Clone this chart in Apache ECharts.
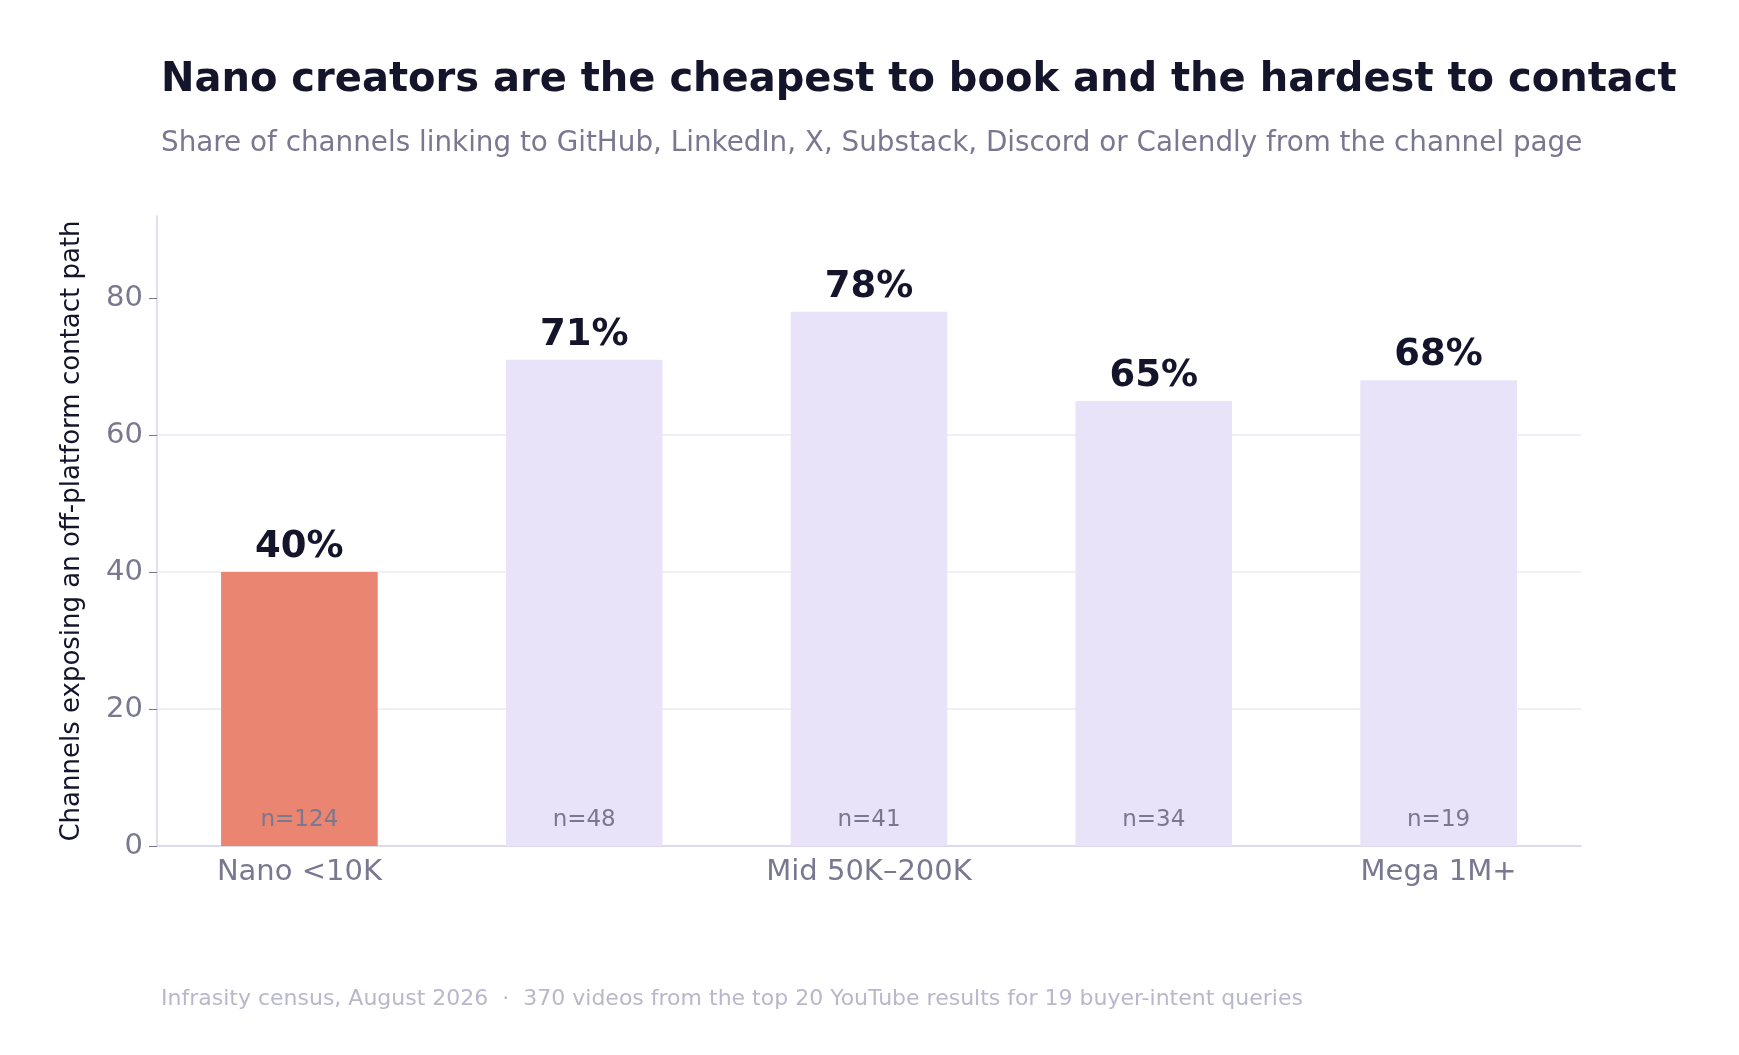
<!DOCTYPE html>
<html><head><meta charset="utf-8">
<script src="https://cdn.jsdelivr.net/npm/echarts@6/dist/echarts.min.js"></script>
<style>html,body{margin:0;background:#fff}#c{width:1739px;height:1055px}</style>
</head><body><div id="c"></div>
<script>
const categories = ['Nano <10K','Micro 10K–50K','Mid 50K–200K','Macro 200K–1M','Mega 1M+'];
const shares = [40,71,78,65,68];
const counts = [124,48,41,34,19];
const yTicks = [0,20,40,60,80];
const chart = echarts.init(document.getElementById('c'));
const font = 'DejaVu Sans';
chart.setOption({
  animation:false,
  textStyle:{fontFamily:font},
  title:[
    {text:'Nano creators are the cheapest to book and the hardest to contact',left:156,top:56,textStyle:{fontFamily:font,fontSize:40,fontWeight:'bold',color:'#14142b'}},
    {text:'Share of channels linking to GitHub, LinkedIn, X, Substack, Discord or Calendly from the channel page',left:156,top:125,textStyle:{fontFamily:font,fontSize:27.8,fontWeight:'normal',color:'#7a7890'}},
    {text:'Infrasity census, August 2026  ·  370 videos from the top 20 YouTube results for 19 buyer-intent queries',left:156,top:983,textStyle:{fontFamily:font,fontSize:22,fontWeight:'normal',color:'#b9b7cb'}}
  ],
  grid:{left:157,right:158,top:216,bottom:209},
  xAxis:{type:'category',data:categories,axisTick:{show:false},
    axisLine:{lineStyle:{color:'#d6d3ea',width:1.5}},
    axisLabel:{fontSize:29,color:'#7a7890',margin:12}},
  yAxis:{type:'value',min:0,max:92,interval:20,
    axisLabel:{fontSize:29,color:'#7a7890',margin:14,customValues:yTicks},
    axisLine:{show:true,lineStyle:{color:'#d6d3ea',width:1.5}},
    axisTick:{show:true,length:8,customValues:yTicks,lineStyle:{color:'#7a7890'}},
    splitLine:{showMaxLine:false,lineStyle:{color:'#f0eff8',width:2}},
    name:'Channels exposing an off-platform contact path',nameLocation:'middle',nameGap:72,
    nameTextStyle:{fontSize:26,color:'#14142b'}},
  series:[
    {type:'bar',barWidth:'55%',
     data:shares.map((v,i)=>({value:v,itemStyle:{color:i===0?'#e98571':'#e8e3f9'}})),
     label:{show:true,position:'top',distance:6,fontSize:37,fontWeight:'bold',color:'#14142b',formatter:p=>p.value+'%'}},
    {type:'bar',barWidth:'55%',barGap:'-100%',silent:true,
     data:counts.map(n=>0),itemStyle:{color:'transparent'},
     label:{show:true,position:'insideBottom',distance:14,fontSize:23,color:'#7a7890',
       formatter:p=>'n='+counts[p.dataIndex]}}
  ]
});
</script></body></html>
